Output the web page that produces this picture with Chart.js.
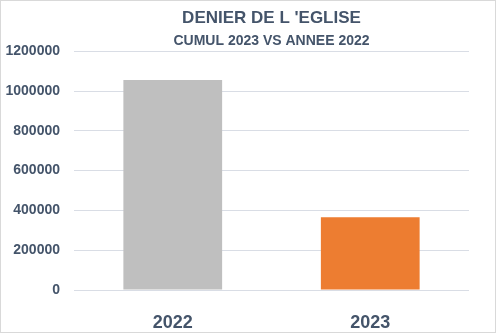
<!DOCTYPE html>
<html>
<head>
<meta charset="utf-8">
<script src="https://cdn.jsdelivr.net/npm/chart.js@4.4.0/dist/chart.umd.min.js"></script>
<style>
  body { margin: 0; background: #fff; }
  #wrap { width: 496px; height: 333px; box-sizing: border-box; border: 1px solid #D9D9D9; }
</style>
</head>
<body>
<div id="wrap"><canvas id="myChart" width="494" height="331"></canvas></div>
<script>
// données du graphique
const annees = ['2022', '2023'];
const montants = [1055000, 366000];
const couleurs = ['#BFBFBF', '#ED7D31'];
const ticksY = [0, 200000, 400000, 600000, 800000, 1000000, 1200000];

const texte = '#44546A';

document.addEventListener('DOMContentLoaded', function () {
    const ctx = document.getElementById('myChart').getContext('2d');
    new Chart(ctx, {
        type: 'bar',
        data: {
            labels: annees,
            datasets: [{
                label: 'Montant',
                data: montants,
                backgroundColor: couleurs,
                barPercentage: 0.5,
                categoryPercentage: 1
            }]
        },
        options: {
            responsive: false,
            animation: false,
            layout: { padding: { left: 0, right: 26, top: 0, bottom: 0 } },
            plugins: {
                legend: { display: false },
                tooltip: { enabled: false },
                // fullSize: false -> titres centrés sur la zone du graphique
                title: {
                    display: true,
                    fullSize: false,
                    text: "DENIER DE L 'EGLISE",
                    color: texte,
                    font: { family: 'Liberation Sans', size: 17, weight: 'bold', lineHeight: 1.2 },
                    padding: { top: 7, bottom: 0 }
                },
                subtitle: {
                    display: true,
                    fullSize: false,
                    text: 'CUMUL 2023 VS ANNEE 2022',
                    color: texte,
                    font: { family: 'Liberation Sans', size: 14, weight: 'bold', lineHeight: 1.2 },
                    padding: { top: 4, bottom: 2 }
                }
            },
            scales: {
                x: {
                    grid: { display: false },
                    border: { display: false },
                    ticks: {
                        color: texte,
                        padding: 14,
                        font: { family: 'Liberation Sans', size: 18, weight: 'bold' }
                    },
                    afterFit: function (scale) { scale.height = 42; }
                },
                y: {
                    min: 0,
                    max: 1200000,
                    afterBuildTicks: function (scale) {
                        scale.ticks = ticksY.map(v => ({ value: v }));
                    },
                    grid: { color: '#D9DDE5', lineWidth: 1, drawTicks: false },
                    border: { display: false },
                    ticks: {
                        color: texte,
                        padding: 14,
                        font: { family: 'Liberation Sans', size: 14, weight: 'bold' },
                        callback: function (v) { return String(v); }
                    },
                    afterFit: function (scale) { scale.width = 73; }
                }
            }
        }
    });
});
</script>
</body>
</html>
